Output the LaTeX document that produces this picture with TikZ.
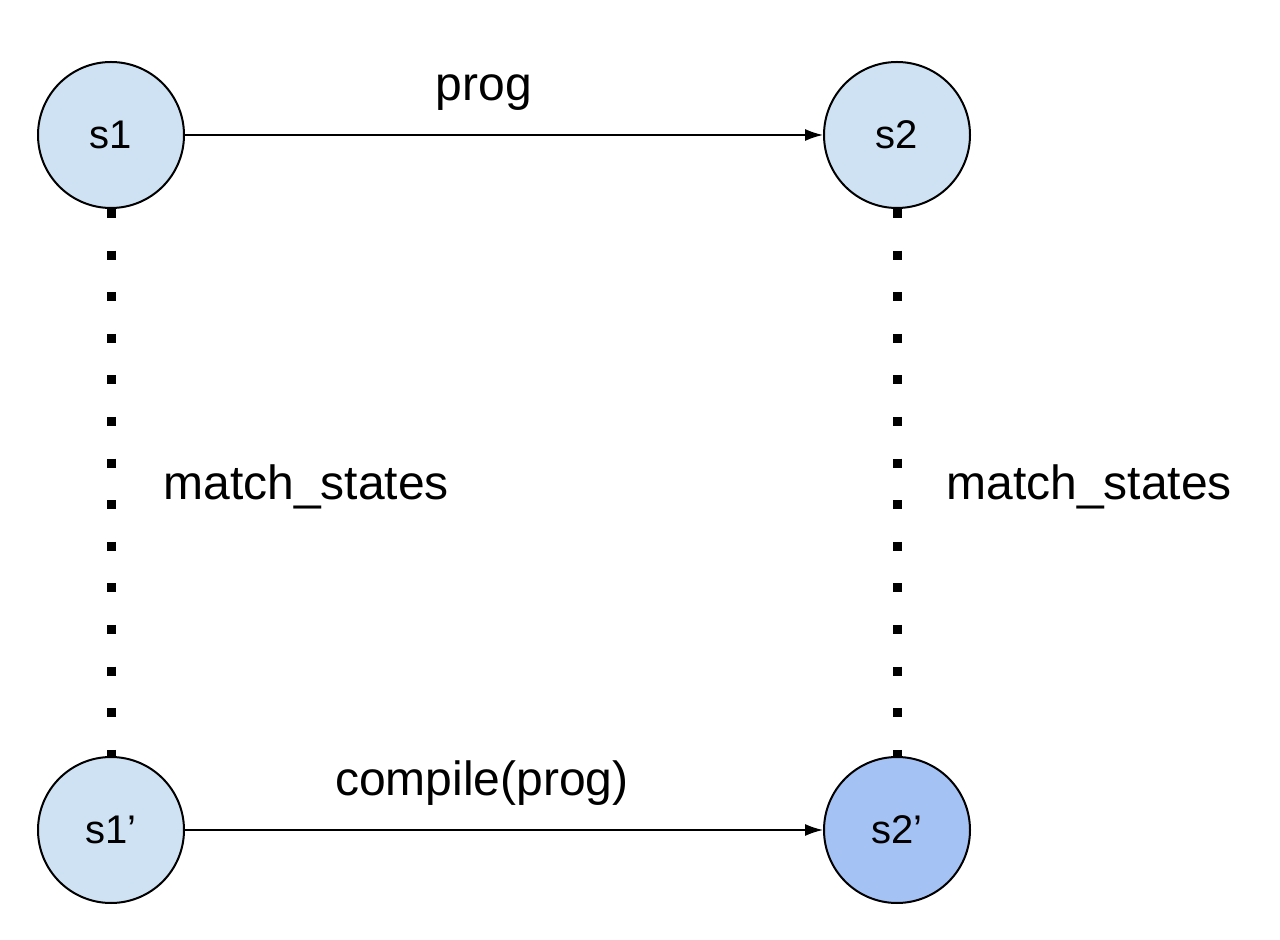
\documentclass[tikz,border=0pt]{standalone}
\usepackage{fontspec}
\setmainfont{Liberation Sans}
\usetikzlibrary{arrows.meta,backgrounds}
\definecolor{statefill}{HTML}{CFE2F3}
\definecolor{statefilldark}{HTML}{A4C2F4}
\begin{document}
\begin{tikzpicture}[x=0.5pt,y=-0.5pt,
  state/.style={circle,draw=black,line width=1pt,fill=statefill,minimum size=73pt,inner sep=0pt,font=\fontsize{20pt}{24pt}\selectfont},
  edgelabel/.style={inner sep=0pt,font=\fontsize{24pt}{28pt}\selectfont},
  trans/.style={line width=0.8pt,-{Latex[length=9pt,width=6pt]}},
  match/.style={line width=4.5pt,dash pattern=on 4.5pt off 16.3pt}]
\useasboundingbox (0,0) rectangle (1280,940);
\node[state] (s1) at (111,135) {s1};
\node[state] (s2) at (897,135) {s2};
\node[state] (s1p) at (111,830) {s1’};
\node[state,fill=statefilldark] (s2p) at (897,830) {s2’};
\begin{scope}[on background layer]
\draw[match] (s1) -- (s1p);
\draw[match] (s2) -- (s2p);
\end{scope}
\draw[trans] (s1) -- (s2);
\draw[trans] (s1p) -- (s2p);
\node[edgelabel,anchor=base] (lprog) at (484,101) {prog};
\node[edgelabel,anchor=base] (lcomp) at (482,795) {compile(prog)};
\node[edgelabel,anchor=base west] (lm1) at (163,500) {match\_states};
\node[edgelabel,anchor=base west] (lm2) at (946,500) {match\_states};
\end{tikzpicture}
\end{document}
